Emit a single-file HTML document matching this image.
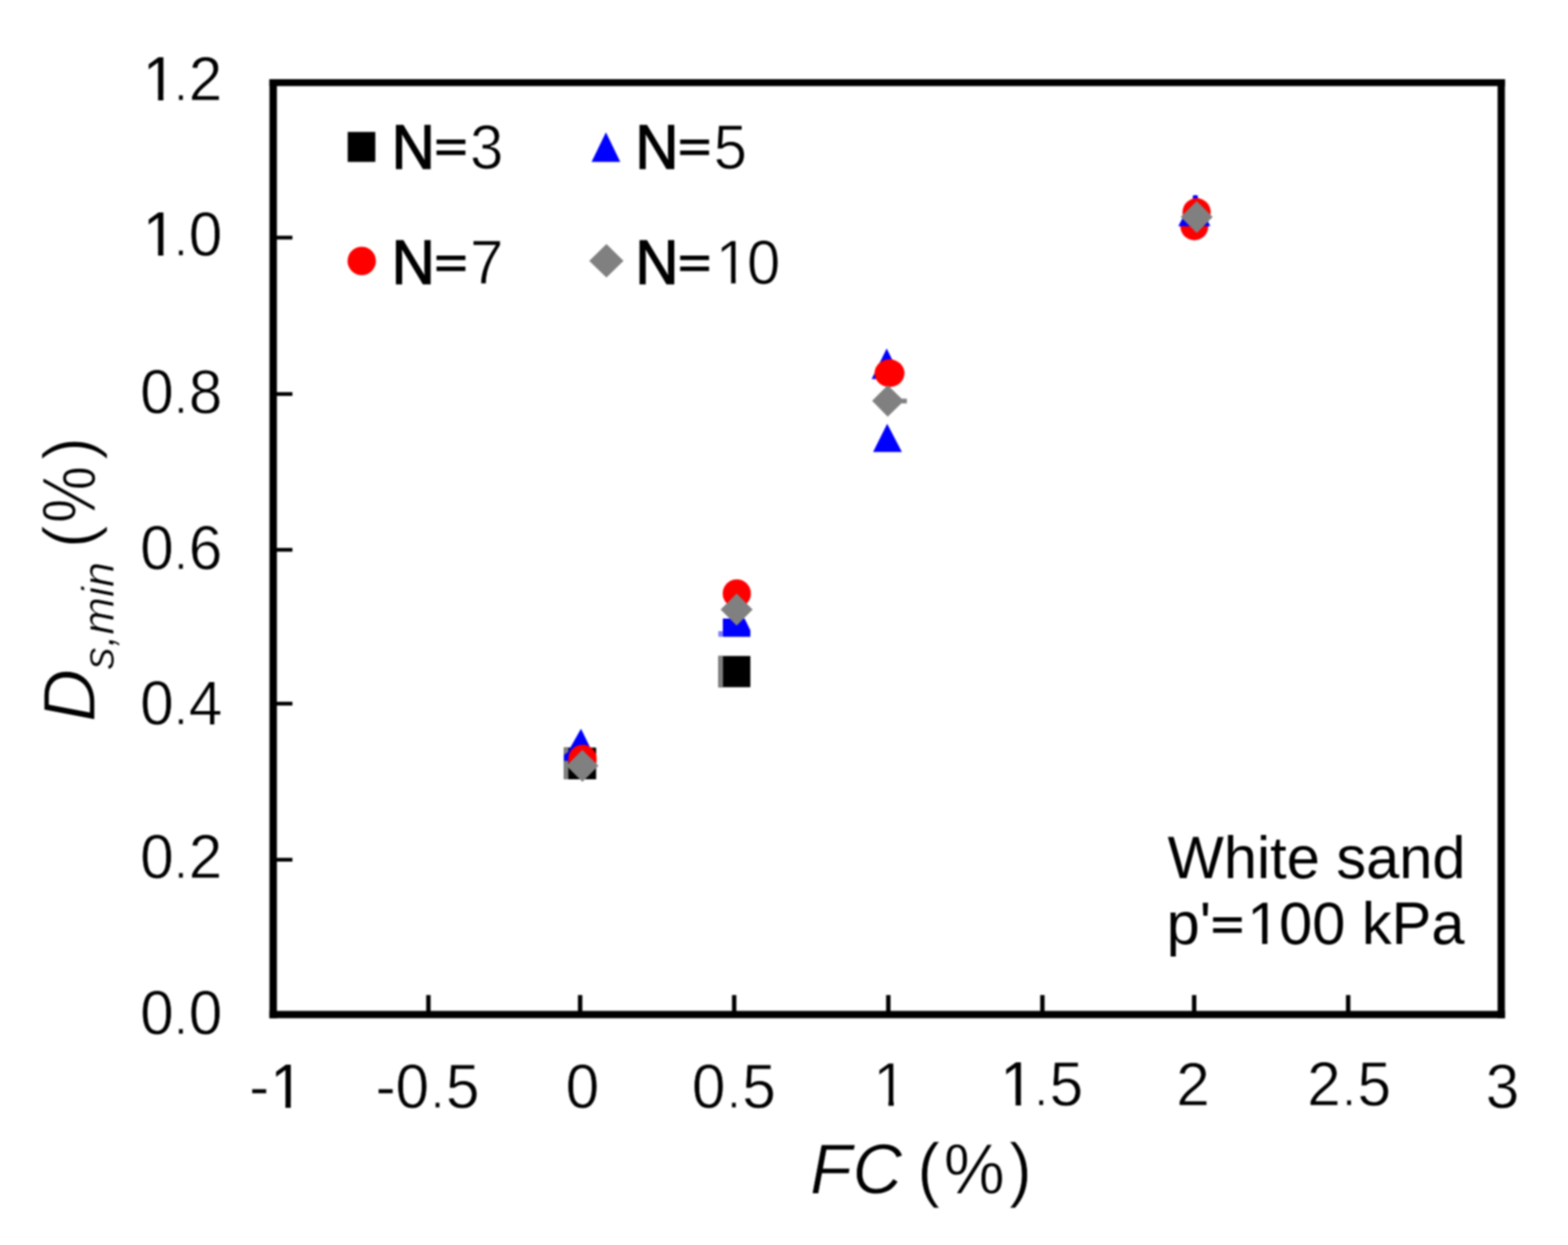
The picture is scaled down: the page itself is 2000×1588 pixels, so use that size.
<!DOCTYPE html>
<html lang="en">
<head>
<meta charset="utf-8">
<title>Ds,min vs FC - White sand</title>
<style>
html,body{margin:0;padding:0;background:#fff;}
body{width:2000px;height:1588px;overflow:hidden;}
svg{display:block;filter:blur(1px);}
svg text{font-family:"Liberation Sans", Arial, Helvetica, sans-serif;fill:#000;}
</style>
</head>
<body>
<svg xmlns="http://www.w3.org/2000/svg" width="2000" height="1588" viewBox="0 0 2000 1588">
<defs>
<clipPath id="tc" clipPathUnits="userSpaceOnUse"><path clip-rule="evenodd" d="M0 0H2000V1588H0ZM186.4 120.82H201.62V129.3H186.4ZM208.43 120.82H223.05V129.3H208.43ZM186.4 319.22H201.62V327.7H186.4ZM208.43 319.22H223.05V327.7H208.43ZM348.85 1405.52H364.07V1414H348.85ZM370.88 1405.52H385.5V1414H370.88ZM1118 1403.52H1133.22V1412H1118ZM1140.03 1403.52H1154.65V1412H1140.03ZM1280.22 1403.02H1295.44V1411.5H1280.22ZM1302.25 1403.02H1316.87V1411.5H1302.25ZM916.92 355.16H932.56V363.6H916.92ZM938.32 355.16H953.36V363.6H938.32ZM1594.83 1196.92H1609.87V1205.1H1594.83ZM1616.59 1196.92H1631.04V1205.1H1616.59Z"/></clipPath>
</defs>
<rect x="0" y="0" width="2000" height="1588" fill="#fff"/>
<g id="frame" fill="#000">
<rect x="343.7" y="101.0" width="9.50" height="1197.70"/>
<rect x="1910.2" y="101.0" width="9.30" height="1197.70"/>
<rect x="343.7" y="101.0" width="1575.80" height="8.80"/>
<rect x="343.7" y="1289.4" width="1575.80" height="9.30"/>
<rect x="543.65" y="1269.2" width="5.6" height="22"/>
<rect x="737.17" y="1269.2" width="5.6" height="22"/>
<rect x="933.65" y="1269.2" width="5.6" height="22"/>
<rect x="1130.27" y="1269.2" width="5.6" height="22"/>
<rect x="1326.80" y="1269.2" width="5.6" height="22"/>
<rect x="1520.35" y="1269.2" width="5.6" height="22"/>
<rect x="1716.80" y="1269.2" width="5.6" height="22"/>
<rect x="350" y="300.67" width="23" height="4.8"/>
<rect x="350" y="500.17" width="23" height="4.8"/>
<rect x="350" y="698.90" width="23" height="4.8"/>
<rect x="350" y="895.10" width="23" height="4.8"/>
<rect x="350" y="1094.20" width="23" height="4.8"/>
</g>
<g id="markers">
<rect x="719.3" y="953.5" width="41.1" height="40.5" fill="#000"/>
<rect x="719.3" y="953.5" width="5.6" height="40.5" fill="#808080"/>
<rect x="916.2" y="836.7" width="40.9" height="39.8" fill="#000"/>
<rect x="916.2" y="836.7" width="6" height="39.8" fill="#808080"/>
<circle cx="1523.40" cy="288.60" r="17.8" fill="#ff0000"/>
<polygon points="741.1,929.5 761,970.5 719.3,970.5 719.3,963 724,959.5" fill="#0000ff"/>
<polygon points="922,812.2 922,789 949.8,789 957.1,804 957.1,812.2" fill="#0000ff"/>
<rect x="916.2" y="805" width="6" height="7.2" fill="#8080ff"/>
<polygon points="1131,444.4 1150.2,483.6 1111.8,483.6" fill="#0000ff"/>
<polygon points="1131.6,540.4 1150.4,576.5 1113.6,576.5" fill="#0000ff"/>
<polygon points="1524.4,248.2 1543.8,288.4 1502.9,288.4" fill="#0000ff"/>
<rect x="1521.4" y="249" width="6.6" height="5" rx="1.5" fill="#0000ff"/>
<circle cx="743.00" cy="967.90" r="18.0" fill="#ff0000"/>
<circle cx="939.80" cy="757.00" r="18.0" fill="#ff0000"/>
<ellipse cx="1134.6" cy="476" rx="19.1" ry="17.7" fill="#ff0000"/>
<circle cx="1526.30" cy="270.80" r="18.0" fill="#ff0000"/>
<polygon points="742.90,956.40 763.30,976.80 742.90,997.20 722.50,976.80" fill="#808080"/>
<polygon points="939.60,757.10 960.00,777.50 939.60,797.90 919.20,777.50" fill="#808080"/>
<polygon points="1132.3,491.3 1150,508.5 1156.7,508.5 1156.7,514.5 1149.7,514.5 1132.3,531.6 1112.4,511.3" fill="#808080"/>
<polygon points="1526.40,256.40 1546.80,276.80 1526.40,297.20 1506.00,276.80" fill="#808080"/>
<rect x="443.5" y="168.3" width="35.2" height="38.2" fill="#000"/>
<polygon points="772.9,168.8 791.2,206.5 754.5,206.5" fill="#0000ff"/>
<ellipse cx="461.4" cy="332.9" rx="18.1" ry="18.2" fill="#ff0000"/>
<polygon points="773.5,311.3 795.3,332.8 773.5,354 751.6,332.8" fill="#808080"/>
</g>
<g id="labels" clip-path="url(#tc)">
<text transform="translate(176.46,127.8) scale(1,1.04)" font-size="77" stroke="#fff" stroke-width="0.8"><tspan x="5.8" stroke="none">1</tspan><tspan x="45.86" font-size="61.6">.</tspan><tspan x="64.22">2</tspan></text>
<text transform="translate(176.46,326.2) scale(1,1.04)" font-size="77" stroke="#fff" stroke-width="0.8"><tspan x="5.8" stroke="none">1</tspan><tspan x="45.86" font-size="61.6">.</tspan><tspan x="64.22">0</tspan></text>
<text transform="translate(176.46,526.5) scale(1,1.04)" font-size="77" stroke="#fff" stroke-width="0.8"><tspan x="2.2">0</tspan><tspan x="45.86" font-size="61.6">.</tspan><tspan x="64.22">8</tspan></text>
<text transform="translate(176.46,725.5) scale(1,1.04)" font-size="77" stroke="#fff" stroke-width="0.8"><tspan x="2.2">0</tspan><tspan x="45.86" font-size="61.6">.</tspan><tspan x="64.22">6</tspan></text>
<text transform="translate(176.46,923.8) scale(1,1.04)" font-size="77" stroke="#fff" stroke-width="0.8"><tspan x="2.2">0</tspan><tspan x="45.86" font-size="61.6">.</tspan><tspan x="64.22">4</tspan></text>
<text transform="translate(176.46,1120.3) scale(1,1.04)" font-size="77" stroke="#fff" stroke-width="0.8"><tspan x="2.2">0</tspan><tspan x="45.86" font-size="61.6">.</tspan><tspan x="64.22">2</tspan></text>
<text transform="translate(176.46,1319) scale(1,1.04)" font-size="77" stroke="#fff" stroke-width="0.8"><tspan x="2.2">0</tspan><tspan x="45.86" font-size="61.6">.</tspan><tspan x="64.22">0</tspan></text>
<text transform="translate(317.77,1412.5) scale(1,1.04)" font-size="77" stroke="#fff" stroke-width="0.8"><tspan x="0">-</tspan><tspan x="26.94" stroke="none">1</tspan></text>
<text transform="translate(478.91,1412.5) scale(1,1.04)" font-size="77" stroke="#fff" stroke-width="0.8"><tspan x="0 25.64">-0</tspan><tspan x="70.6" font-size="61.6">.</tspan><tspan x="89.86">5</tspan></text>
<text transform="translate(721.41,1412.5) scale(1,1.04)" x="0" font-size="77" stroke="#fff" stroke-width="0.8">0</text>
<text transform="translate(882.43,1412.5) scale(1,1.04)" font-size="77" stroke="#fff" stroke-width="0.8"><tspan x="0">0</tspan><tspan x="44.96" font-size="61.6">.</tspan><tspan x="64.22">5</tspan></text>
<text transform="translate(1111.66,1410.5) scale(1,1.04)" x="2.2" font-size="77" stroke="#fff" stroke-width="0.8">1</text>
<text transform="translate(1274.58,1410) scale(1,1.04)" font-size="77" stroke="#fff" stroke-width="0.8"><tspan x="1.5" stroke="none">1</tspan><tspan x="44.96" font-size="61.6">.</tspan><tspan x="64.22">5</tspan></text>
<text transform="translate(1500.34,1410) scale(1,1.0)" x="0" font-size="77" stroke="#fff" stroke-width="0.8">2</text>
<text transform="translate(1667.28,1410) scale(1,1.04)" font-size="77" stroke="#fff" stroke-width="0.8"><tspan x="0">2</tspan><tspan x="44.96" font-size="61.6">.</tspan><tspan x="64.22">5</tspan></text>
<text transform="translate(1894.89,1412.5) scale(1,1.04)" x="0" font-size="77" stroke="#fff" stroke-width="0.8">3</text>
<text transform="translate(499.5,214.6) scale(1,1.04)" font-size="76.5"><tspan x="0" stroke="#000" stroke-width="1.6">N</tspan><tspan x="54.75" dy="-7.05" font-size="55.08" textLength="41.99" lengthAdjust="spacingAndGlyphs" stroke="#000" stroke-width="1.5">=</tspan><tspan x="99.92" dy="7.05" stroke="#fff" stroke-width="1.0">3</tspan></text>
<text transform="translate(499.5,362.1) scale(1,1.04)" font-size="76.5"><tspan x="0" stroke="#000" stroke-width="1.6">N</tspan><tspan x="54.75" dy="-7.05" font-size="55.08" textLength="41.99" lengthAdjust="spacingAndGlyphs" stroke="#000" stroke-width="1.5">=</tspan><tspan x="99.92" dy="7.05" stroke="#fff" stroke-width="1.0">7</tspan></text>
<text transform="translate(810.3,214.6) scale(1,1.04)" font-size="76.5"><tspan x="0" stroke="#000" stroke-width="1.6">N</tspan><tspan x="54.75" dy="-7.05" font-size="55.08" textLength="41.99" lengthAdjust="spacingAndGlyphs" stroke="#000" stroke-width="1.5">=</tspan><tspan x="99.92" dy="7.05" stroke="#fff" stroke-width="1.0">5</tspan></text>
<text transform="translate(810.3,362.1) scale(1,1.04)" font-size="76.5"><tspan x="0" stroke="#000" stroke-width="1.6">N</tspan><tspan x="54.75" dy="-7.05" font-size="55.08" textLength="41.99" lengthAdjust="spacingAndGlyphs" stroke="#000" stroke-width="1.5">=</tspan><tspan x="102.52 142.47" dy="7.05" stroke="#fff" stroke-width="1.0">10</tspan></text>
<text transform="translate(1489.2,1119.5) scale(1,1.0)" x="0 71.73 114 130.88 152 194.27 215.38 253.38 295.65 337.92" font-size="76">White sand</text>
<text transform="translate(1488,1203.6) scale(1,1.0)" font-size="76"><tspan x="0 42.27">p'</tspan><tspan x="56.78" dy="-4.5" font-size="57.76" textLength="41.72" lengthAdjust="spacingAndGlyphs" stroke="#000" stroke-width="1.5">=</tspan><tspan x="102.76 143.43 185.7 227.96 249.08 287.08 337.77" dy="4.5">100 kPa</tspan></text>
<text transform="translate(1033.3,1521.6) scale(1,1.04)" font-size="87.5" stroke="#fff" stroke-width="0.9"><tspan font-style="italic" x="0 54.2">FC</tspan><tspan x="112.5 136.7 170.5 253.7"> (%)</tspan></text>
<text transform="translate(120.8,921) rotate(-90)" font-size="89" stroke="#fff" stroke-width="1.4"><tspan font-style="italic" font-size="94">D</tspan><tspan font-style="italic" font-size="57.5" stroke-width="0.8" x="66.9" dy="24">s,min</tspan><tspan x="197 221.7" dy="-26.5"> (</tspan><tspan x="253.8" dy="2.5" font-size="97" textLength="73" lengthAdjust="spacingAndGlyphs">%</tspan><tspan x="333.9" dy="-2.5">)</tspan></text>
</g>
</svg>
</body>
</html>
